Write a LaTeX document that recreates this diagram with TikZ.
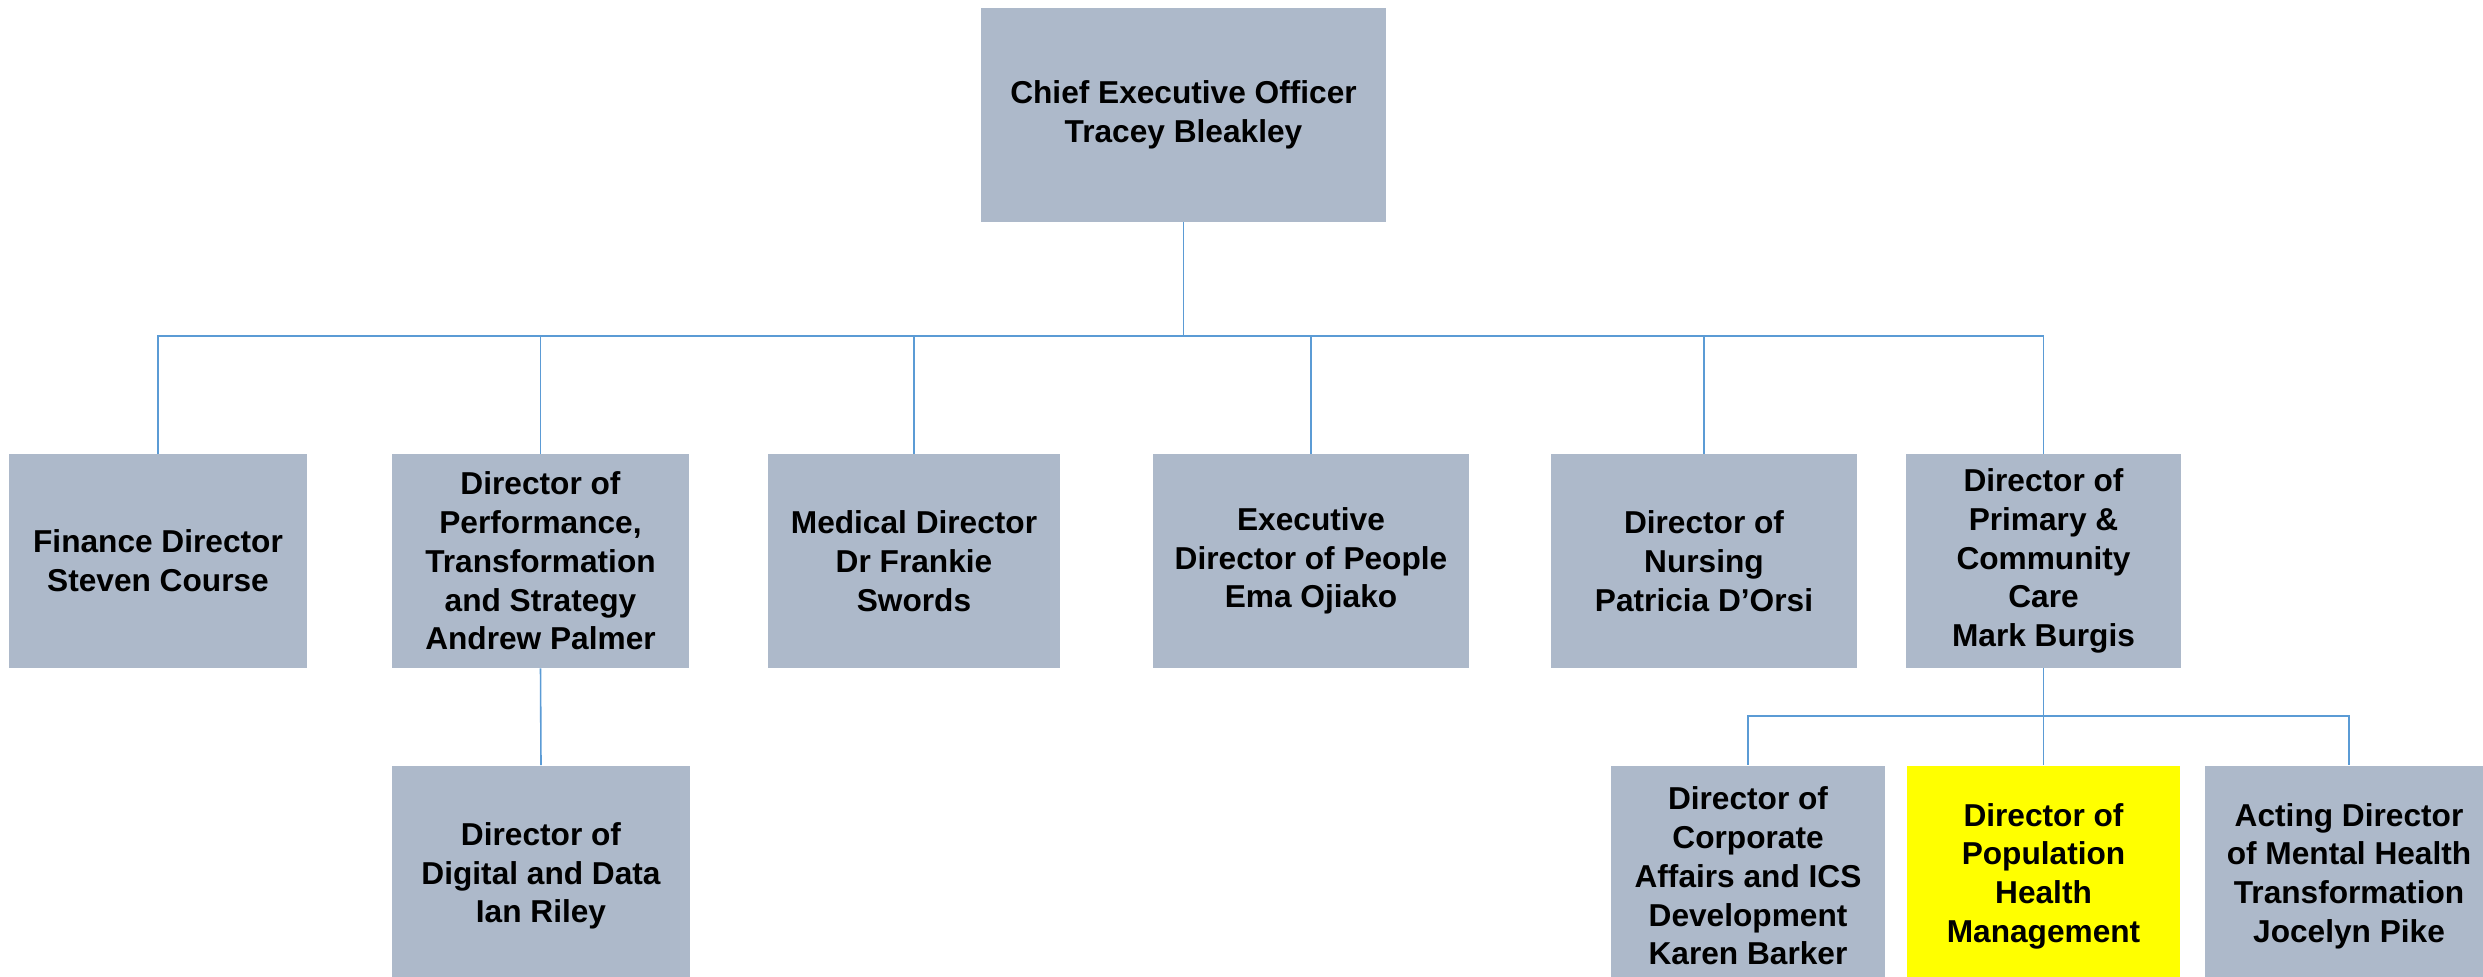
\documentclass[tikz,border=0pt]{standalone}
\usepackage{fontspec}
\setmainfont{Liberation Sans}
\usepackage{tikz}
\usetikzlibrary{calc}
\definecolor{boxgrey}{RGB}{173,185,202}
\definecolor{linkblue}{RGB}{91,155,213}
\definecolor{hilite}{RGB}{255,255,0}
\tikzset{
	post/.style={fill=boxgrey, minimum height=2.13cm, align=center, inner sep=0pt, font=\fontsize{9}{11}\selectfont\bfseries},
	link/.style={draw=linkblue, line width=0.45pt},
}

\begin{document}
\begin{tikzpicture}[x=0.01cm, y=-0.01cm]
	\useasboundingbox (0,0) rectangle (2483,976);
	\clip (0,0) rectangle (2483,976);
	
	\node [post, minimum width=4.05cm] (ceo) at (1183.5,115) {Chief Executive Officer\\Tracey Bleakley};
	
	\foreach \n/\x/\w/\t in {fin/158/2.97/{Finance Director\\Steven Course},
		perf/540.5/2.97/{Director of\\Performance,\\Transformation\\and Strategy\\Andrew Palmer},
		med/914/2.92/{Medical Director\\Dr Frankie\\Swords},
		people/1311/3.15/{Executive\\Director of People\\Ema Ojiako},
		nurse/1704/3.05/{Director of\\Nursing\\Patricia D’Orsi},
		primary/2043.5/2.74/{Director of\\Primary \&\\Community\\Care\\Mark Burgis}}{
		\node [post, minimum width=\w cm] (\n) at (\x, 561) {\t};
	}
	
	\foreach \n/\x/\w/\t in {digital/541/2.98/{Director of\\Digital and Data\\Ian Riley},
		corp/1748/2.73/{Director of\\Corporate\\Affairs and ICS\\Development\\Karen Barker},
		acting/2349/2.88/{Acting Director\\of Mental Health\\Transformation\\Jocelyn Pike}}{
		\node [post, minimum width=\w cm, minimum height=2.2cm] (\n) at (\x, 876) {\t};
	}
	\node [post, fill=hilite, minimum width=2.73cm, minimum height=2.2cm] (pop) at (2043.5, 876) {Director of\\Population\\Health\\Management};
	
	\coordinate (bus) at (0, 336);
	\coordinate (subbus) at (0, 716);
	
	\foreach \n in {fin, perf, med, people, nurse, primary}{
		\draw [link] (ceo.south) |- (\n.north |- bus) -- (\n.north);
	}
	\draw [link] (perf.south) -- (digital.north);
	\foreach \n in {corp, pop, acting}{
		\draw [link] (primary.south) |- (\n.north |- subbus) -- (\n.north);
	}
	
\end{tikzpicture}
\end{document}
